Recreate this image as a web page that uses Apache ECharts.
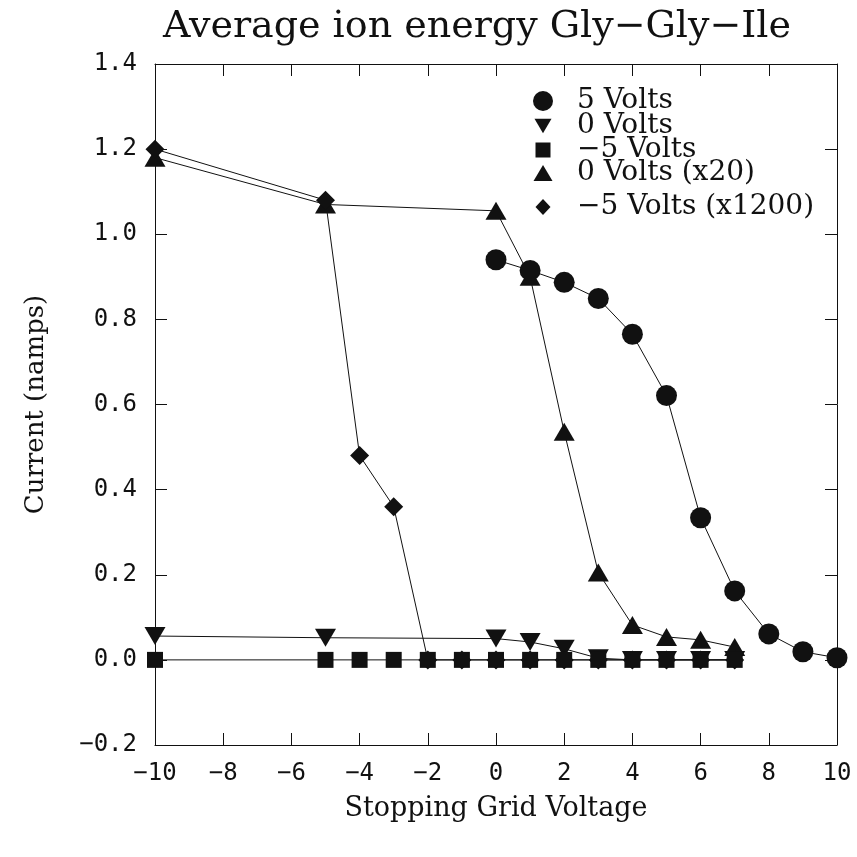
<!DOCTYPE html>
<html>
<head>
<meta charset="utf-8">
<script src="https://cdn.jsdelivr.net/npm/echarts@6/dist/echarts.min.js"></script>
<style>html,body{margin:0;padding:0;background:#fff;}#c{width:857px;height:857px;}</style>
</head>
<body>
<div id="c"></div>
<script>
// ---- data ----
var titleText = 'Average ion energy Gly\u2212Gly\u2212Ile';
var xTitle = 'Stopping Grid Voltage';
var yTitle = 'Current (namps)';

var circX = [0, 1, 2, 3, 4, 5, 6, 7, 8, 9, 10];
var circY = [0.94, 0.915, 0.887, 0.849, 0.765, 0.621, 0.334, 0.162, 0.061, 0.019, 0.005];

var invTriX = [-10, -5, 0, 1, 2, 3, 4, 5, 6, 7];
var invTriY = [0.056, 0.052, 0.05, 0.042, 0.026, 0.004, 0.0, 0.0, 0.0, 0.0];

var squareX = [-10, -5, -4, -3, -2, -1, 0, 1, 2, 3, 4, 5, 6, 7];
var squareY = [0, 0, 0, 0, 0, 0, 0, 0, 0, 0, 0, 0, 0, 0];

var triX = [-10, -5, 0, 1, 2, 3, 4, 5, 6, 7];
var triY = [1.18, 1.07, 1.055, 0.90, 0.536, 0.205, 0.082, 0.054, 0.047, 0.03];

var diaX = [-10, -5, -4, -3, -2, -1, 0, 1, 2, 3, 4, 5, 6, 7];
var diaY = [1.20, 1.08, 0.48, 0.36, 0, 0, 0, 0, 0, 0, 0, 0, 0, 0];

var names = ['5 Volts', '0 Volts', '\u22125 Volts', '0 Volts (x20)', '\u22125 Volts (x1200)'];

function pairs(xs, ys) { return xs.map(function (x, i) { return [x, ys[i]]; }); }
function minus(s) { return String(s).replace('-', '\u2212'); }

var invTriPath = 'path://M0,0L10,0L5,8.66Z';
var ink = '#111';
var serif = '"DejaVu Serif", "Liberation Serif", serif';
var sansMono = '"DejaVu Sans Mono", monospace';

// legend layout: one small legend per row
var legIcons = ['circle', invTriPath, 'rect', 'triangle', 'diamond'];
var legCenters = [98, 123, 147, 170, 204];
var legSizes = [[20, 20], [17, 15], [15, 15], [19, 16], [15, 16]];
var legends = names.map(function (n, i) {
  return {
    data: [{ name: n, icon: legIcons[i] }],
    left: 543 - legSizes[i][0] / 2, top: legCenters[i] - 11, padding: 0,
    itemWidth: legSizes[i][0], itemHeight: legSizes[i][1], selectedMode: false,
    textStyle: { fontFamily: serif, fontSize: 28, color: ink, lineHeight: 22,
      padding: [0, 0, 0, 577 - (543 - legSizes[i][0] / 2) - legSizes[i][0] - 5] }
  };
});

var chart = echarts.init(document.getElementById('c'));
var base = { type: 'line', lineStyle: { color: ink, width: 1 }, itemStyle: { color: ink }, animation: false };
function axisCommon(extra) {
  return Object.assign({
    axisLine: { show: true, onZero: false, lineStyle: { color: ink, width: 1 } },
    axisTick: { show: true, inside: true, length: 12, lineStyle: { color: ink } },
    splitLine: { show: false }
  }, extra);
}

chart.setOption({
  backgroundColor: '#fff',
  animation: false,
  title: { text: titleText, left: 472, top: 3, textAlign: 'center',
    textStyle: { fontFamily: serif, fontSize: 38, fontWeight: 'normal', color: ink } },
  grid: { left: 155, right: 20, top: 64, bottom: 112 },
  legend: legends,
  xAxis: [axisCommon({
    type: 'value', min: -10, max: 10, interval: 2, position: 'bottom',
    name: xTitle, nameLocation: 'middle', nameGap: 50,
    nameTextStyle: { fontFamily: serif, fontSize: 27, color: ink },
    axisLabel: { fontFamily: sansMono, fontSize: 24, color: ink, margin: 17, formatter: function (v) { return minus(v); } }
  }), axisCommon({
    type: 'value', min: -10, max: 10, interval: 2, position: 'top', axisLabel: { show: false }
  })],
  yAxis: [axisCommon({
    type: 'value', min: -0.2, max: 1.4, interval: 0.2, position: 'left',
    name: yTitle, nameLocation: 'middle', nameGap: 106, nameRotate: 90,
    nameTextStyle: { fontFamily: serif, fontSize: 26, color: ink },
    axisLabel: { fontFamily: sansMono, fontSize: 24, color: ink, margin: 18, formatter: function (v) { return minus(v.toFixed(1)); } }
  }), axisCommon({
    type: 'value', min: -0.2, max: 1.4, interval: 0.2, position: 'right', axisLabel: { show: false }
  })],
  series: [
    Object.assign({}, base, { name: names[3], data: pairs(triX, triY), symbol: 'triangle', symbolSize: [21, 18], z: 2 }),
    Object.assign({}, base, { name: names[4], data: pairs(diaX, diaY), symbol: 'diamond', symbolSize: [19, 19], z: 3 }),
    Object.assign({}, base, { name: names[1], data: pairs(invTriX, invTriY), symbol: invTriPath, symbolSize: [21, 18], z: 4 }),
    Object.assign({}, base, { name: names[2], data: pairs(squareX, squareY), symbol: 'rect', symbolSize: [16, 16], z: 5 }),
    Object.assign({}, base, { name: names[0], data: pairs(circX, circY), symbol: 'circle', symbolSize: 21, z: 6 })
  ]
});
</script>
</body>
</html>
